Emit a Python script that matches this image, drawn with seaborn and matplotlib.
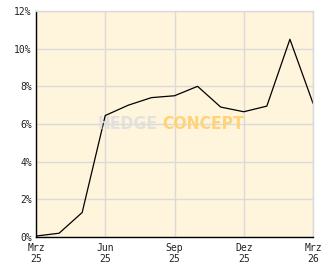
import matplotlib
matplotlib.use("Agg")
import matplotlib.pyplot as plt
import seaborn as sns
import pandas as pd
import numpy as np

months = ["Mrz 25", "Apr 25", "Mai 25", "Jun 25", "Jul 25", "Aug 25", "Sep 25",
          "Okt 25", "Nov 25", "Dez 25", "Jan 26", "Feb 26", "Mrz 26"]
values = [0.05, 0.2, 1.3, 6.45, 7.0, 7.4, 7.5, 8.0, 6.9, 6.65, 6.95, 10.5, 7.1]
tick_labels = ["Mrz\n25", "Jun\n25", "Sep\n25", "Dez\n25", "Mrz\n26"]
y_labels = ["0%", "2%", "4%", "6%", "8%", "10%", "12%"]

df = pd.DataFrame({"idx": range(len(months)), "value": values, "month": months})

sns.set_style("white")
plt.rcParams['font.family'] = ['DejaVu Sans Mono', 'DejaVu Sans']

W, H = 332, 269
fig = plt.figure(figsize=(W / 100, H / 100), dpi=100)
ax = fig.add_axes([36 / W, (H - 237) / H, (313 - 36) / W, (237 - 11) / H])
ax.set_facecolor("#FFF5DC")

sns.lineplot(data=df, x="idx", y="value", ax=ax, color="black", linewidth=0.9)

ax.set_xlim(0, 12)
ax.set_ylim(0, 12)
ax.set_xticks([0, 3, 6, 9, 12])
ax.set_xticklabels(tick_labels)
ax.set_yticks([0, 2, 4, 6, 8, 10, 12])
ax.set_yticklabels(y_labels)
ax.set_yticks([1, 3, 5, 7, 9, 11], minor=True)
ax.grid(True, which="major", color="#DADADA", linewidth=1)
ax.set_axisbelow(True)
ax.tick_params(axis="both", which="major", direction="in", length=4, width=1,
               color="black", labelsize=7, pad=3, labelcolor="#222222")
ax.tick_params(axis="y", which="minor", direction="in", length=4, width=1, color="black")
ax.tick_params(axis="x", which="major", pad=4)
ax.set_xlabel("")
ax.set_ylabel("")

for s in ["top", "right"]:
    ax.spines[s].set_color("#DADADA")
    ax.spines[s].set_linewidth(1)
for s in ["left", "bottom"]:
    ax.spines[s].set_color("black")
    ax.spines[s].set_linewidth(1)

ax.text(0.44, 0.5, "HEDGE", transform=ax.transAxes, ha="right", va="center",
        fontsize=12.5, fontweight="bold", color="#DEDEDE", alpha=0.85,
        family="DejaVu Sans", fontstretch="condensed")
ax.text(0.456, 0.5, "CONCEPT", transform=ax.transAxes, ha="left", va="center",
        fontsize=12.5, fontweight="bold", color="#FFD070", alpha=0.9,
        family="DejaVu Sans", fontstretch="condensed")

fig.savefig("out.png", dpi=100)
